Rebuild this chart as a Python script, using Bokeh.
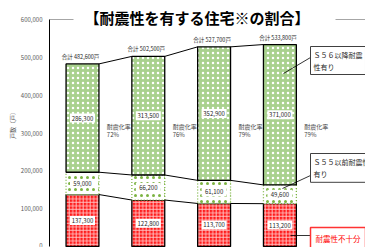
import numpy as np
from bokeh.plotting import figure
from bokeh.models import (ColumnDataSource, Range1d, Label, FixedTicker,
                          NumeralTickFormatter, BoxAnnotation)
from bokeh.core.properties import value
from bokeh.embed import file_html
from bokeh.resources import INLINE

# ---------------- data ----------------
years = ["H15", "H20", "H25", "H30"]
insufficient = [137300, 122800, 113700, 113200]   # 耐震性不十分
pre_s55 = [59000, 66200, 61100, 49600]            # S55以前耐震性有り
post_s56 = [286300, 313500, 352900, 371000]       # S56以降耐震性有り
totals = [482600, 502500, 527700, 533800]
rates = ["72%", "76%", "79%", "79%"]
y_ticks = [0, 100000, 200000, 300000, 400000, 500000, 600000]
title_text = "【耐震性を有する住宅※の割合】"
y_label = "戸数（戸）"
rate_word = "耐震化率"
total_prefix = "合計 "
total_suffix = "戸"
legend_post = "Ｓ５６以降耐震\n性有り"
legend_pre = "Ｓ５５以前耐震性\n有り"
legend_bad = "耐震性不十分"

FONT = "Noto Sans CJK JP"
GREEN = "#a9d18e"
DOT_GREEN = "#7cb342"
RED = "#ff1a1a"

idx = np.arange(len(years))
ins = np.array(insufficient)
pre = np.array(pre_s55)
post = np.array(post_s56)
c1 = ins
c2 = ins + pre
c3 = ins + pre + post

# pixel helpers for annotation placement (page px -> data)
PX_PER_CAT = 65.8
X0_PAGE = 82.0
FRAME_LEFT = 49
def dx(px):
    return (px - X0_PAGE) / PX_PER_CAT
def dy(py):
    return (246.0 - py) * 600000.0 / 227.0

p = figure(width=365, height=247, output_backend="svg", toolbar_location=None,
           x_range=Range1d(dx(FRAME_LEFT), dx(365)),
           y_range=Range1d(dy(247), dy(0)),
           x_axis_location=None, min_border_left=FRAME_LEFT, min_border_right=0,
           min_border_top=0, min_border_bottom=0)
p.outline_line_color = None
p.background_fill_color = "white"
p.border_fill_color = "white"

# axis
ax = p.yaxis[0]
ax.ticker = FixedTicker(ticks=y_ticks)
ax.formatter = NumeralTickFormatter(format="0,0")
ax.bounds = (0, 600000)
ax.major_tick_out = 0
ax.major_tick_in = 0
ax.minor_tick_out = 0
ax.minor_tick_in = 0
ax.major_label_standoff = 7
ax.major_label_text_font = FONT
ax.major_label_text_font_size = "6px"
ax.major_label_text_color = "#595959"
ax.axis_line_color = "black"
ax.axis_line_width = 1
ax.axis_label = y_label
ax.axis_label_text_font = FONT
ax.axis_label_text_font_style = "normal"
ax.axis_label_text_font_size = "6px"
ax.axis_label_text_color = "#595959"
ax.axis_label_standoff = 1

p.xgrid.visible = False
p.ygrid.ticker = FixedTicker(ticks=[600000])
p.ygrid.grid_line_color = "#a6a6a6"
p.ygrid.grid_line_width = 1

W = 0.5
# bars
p.vbar(x=idx, width=W, bottom=0, top=c1, fill_color=RED, line_color="black",
       line_width=1.3, hatch_pattern="cross", hatch_color="white",
       hatch_scale=3.5, hatch_weight=0.9, hatch_alpha=0.75)
p.vbar(x=idx, width=W, bottom=c1, top=c2, fill_color="white", line_color=DOT_GREEN,
       line_width=1.3, line_dash="1 2", hatch_pattern="dot", hatch_color=DOT_GREEN,
       hatch_scale=6, hatch_weight=2)
p.vbar(x=idx, width=W, bottom=c2, top=c3, fill_color=GREEN, line_color="black",
       line_width=1.3, hatch_pattern="dot", hatch_color="white",
       hatch_scale=5, hatch_weight=1.6)

# connecting lines
for c in (c1, c2, c3):
    p.segment(x0=idx[:-1] + W / 2, y0=c[:-1], x1=idx[1:] - W / 2, y1=c[1:],
              line_color="black", line_width=1)

# value labels with white boxes
lab_src = ColumnDataSource(dict(
    x=np.concatenate([idx, idx, idx]),
    y=np.concatenate([c1 / 2, (c1 + c2) / 2, (c2 + c3) / 2]),
    t=[f"{v:,}" for v in np.concatenate([ins, pre, post])],
))
p.rect(x="x", y="y", width=25, height=9, width_units="screen", height_units="screen",
       source=lab_src, fill_color="white", line_color=None)
p.text(x="x", y="y", text="t", source=lab_src, text_font=value(FONT),
       text_font_size="6px", text_align="center", text_baseline="middle",
       text_color="#262626")

# totals
tot_src = ColumnDataSource(dict(x=idx - 0.03, y=totals,
                                t=[f"{total_prefix}{v:,}{total_suffix}" for v in totals]))
p.text(x="x", y="y", text="t", source=tot_src, y_offset=-3, text_font=value(FONT),
       text_font_size="5.5px", text_align="center", text_baseline="bottom",
       text_color="#262626")

# rate labels
rate_src = ColumnDataSource(dict(x=idx + W / 2 + 0.12, y1=[dy(126)] * len(idx),
                                 y2=[dy(134)] * len(idx), w=[rate_word] * len(idx),
                                 r=rates))
p.text(x="x", y="y1", text="w", source=rate_src, text_font=value(FONT),
       text_font_size="6px", text_align="left", text_baseline="middle",
       text_color="#404040")
p.text(x="x", y="y2", text="r", source=rate_src, text_font=value(FONT),
       text_font_size="6px", text_align="left", text_baseline="middle",
       text_color="#404040")

# title with white backing
p.add_layout(BoxAnnotation(left=dx(73), right=dx(335), bottom=dy(27), top=dy(3),
                           fill_color="white", fill_alpha=1, line_color=None))
p.add_layout(Label(x=dx(196.5), y=dy(17), text=title_text, text_font=FONT,
                   text_font_style="bold", text_font_size="15px",
                   text_align="center", text_baseline="middle", text_color="black"))

# callouts
p.segment(x0=[dx(283), dx(282), dx(290)], y0=[dy(73), dy(188), dy(235)],
          x1=[dx(310), dx(310), dx(310)], y1=[dy(57), dy(175), dy(235)],
          line_color="black", line_width=0.8)
p.add_layout(Label(x=dx(310), y=dy(46), text=legend_post, text_font=FONT,
                   text_font_size="7px", text_align="left", text_baseline="top",
                   text_line_height=1.2, text_color="#262626",
                   background_fill_color="white", border_line_color="#404040",
                   border_line_width=1, padding=3))
p.add_layout(Label(x=dx(310), y=dy(153), text=legend_pre, text_font=FONT,
                   text_font_size="7px", text_align="left", text_baseline="top",
                   text_line_height=1.28, text_color="#262626",
                   background_fill_color="white", border_line_color="#404040",
                   border_line_width=1, padding=3))
p.add_layout(Label(x=dx(310), y=dy(227), text=legend_bad, text_font=FONT,
                   text_font_size="7.5px", text_align="left", text_baseline="top",
                   text_color="#ff0000", background_fill_color="white",
                   border_line_color="#ff3333", border_line_width=1.5, padding=5))

open("out.html", "w").write(file_html(p, INLINE))
